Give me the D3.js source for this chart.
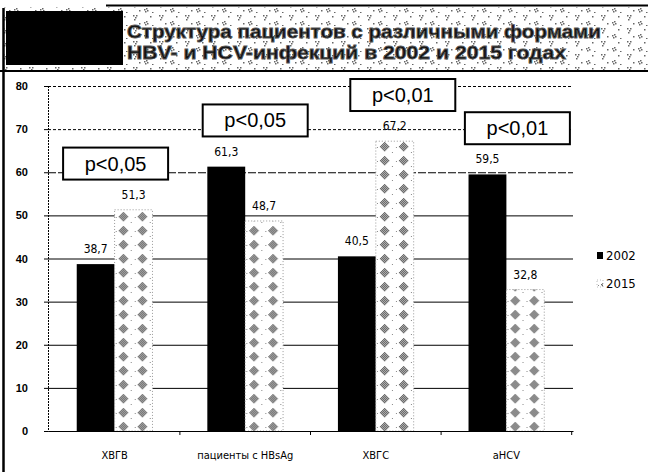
<!DOCTYPE html>
<html>
<head>
<meta charset="utf-8">
<script src="https://cdn.jsdelivr.net/npm/d3@7"></script>
<style>
  body { margin: 0; background: #fff; }
  svg { display: block; }
</style>
</head>
<body>
<div id="chart"></div>
<script>
const categories = ["ХВГВ", "пациенты с HBsAg", "ХВГС", "aHCV"];
const years = ["2002", "2015"];
const values2002 = [38.7, 61.3, 40.5, 59.5];
const values2015 = [51.3, 48.7, 67.2, 32.8];
const pLabels = ["p<0,05", "p<0,05", "p<0,01", "p<0,01"];
const yTicks = [0, 10, 20, 30, 40, 50, 60, 70, 80];
const titleLines = ["Структура пациентов с различными формами", "HBV- и HCV-инфекций в 2002 и 2015 годах"];

const W = 648, H = 472;
const plotL = 48, plotR = 573, plotT = 86, plotB = 431;
const narrow = "'Liberation Sans Narrow', 'DejaVu Sans Condensed', Arial, sans-serif";

const svg = d3.select("#chart").append("svg")
    .attr("width", W).attr("height", H);

const defs = svg.append("defs");

// stippled fill for 2015 bars: gray halftone blobs, two per bar width
const pat = defs.append("pattern")
    .attr("id", "stip").attr("patternUnits", "userSpaceOnUse")
    .attr("width", 19).attr("height", 14);
pat.append("rect").attr("width", 19).attr("height", 14).attr("fill", "#fff");
for (let i = 0; i <= 8; i++) {
  for (let j = 0; j <= 8; j++) {
    if ((i + j) % 2 === 0 && Math.abs(i - 4) + Math.abs(j - 4) <= 5) {
      pat.append("rect").attr("x", 4 + i).attr("y", 2 + j)
        .attr("width", 1.3).attr("height", 1.3).attr("fill", "#666");
    }
  }
}
pat.append("rect").attr("x", 16).attr("y", 12).attr("width", 1).attr("height", 1).attr("fill", "#888");
pat.append("rect").attr("x", 1).attr("y", 7).attr("width", 1).attr("height", 1).attr("fill", "#888");

// speckled title background
const tpat = defs.append("pattern")
    .attr("id", "tbg").attr("patternUnits", "userSpaceOnUse")
    .attr("width", 26).attr("height", 13);
tpat.append("rect").attr("width", 26).attr("height", 13).attr("fill", "#fff");
[[3,2],[5,4],[4,6],[6,2],[14,9],[16,8],[15,11],[17,10],[20,3],[9,10],[22,12]].forEach(([a, b]) => {
  tpat.append("rect").attr("x", a).attr("y", b).attr("width", 1.5).attr("height", 1.5).attr("fill", "#666");
});

// title block
svg.append("rect").attr("x", 4).attr("y", 7).attr("width", W - 4).attr("height", 63)
    .attr("fill", "url(#tbg)");
svg.append("rect").attr("x", 6).attr("y", 11).attr("width", 117).attr("height", 54).attr("fill", "#000");
svg.append("line").attr("x1", 106).attr("x2", W).attr("y1", 5.5).attr("y2", 5.5)
    .attr("stroke", "#000").attr("stroke-width", 2);
svg.append("line").attr("x1", 0).attr("x2", W).attr("y1", 71).attr("y2", 71)
    .attr("stroke", "#000").attr("stroke-width", 2);
svg.append("line").attr("x1", 3.5).attr("x2", 3.5).attr("y1", 8).attr("y2", H)
    .attr("stroke", "#000").attr("stroke-width", 2.5);

const titleEnds = [601, 566];
svg.selectAll("text.title").data(titleLines).enter().append("text")
    .attr("class", "title")
    .attr("x", 127).attr("y", (d, i) => 38 + i * 21)
    .attr("textLength", (d, i) => titleEnds[i] - 127)
    .attr("lengthAdjust", "spacingAndGlyphs")
    .attr("font-family", "Arial, 'Liberation Sans', sans-serif")
    .attr("font-weight", "bold").attr("font-size", 18)
    .attr("fill", "#111")
    .attr("stroke", "#555").attr("stroke-width", 0.8)
    .text(d => d);

// scales
const y = d3.scaleLinear().domain([0, 80]).range([plotB, plotT]);
const x0 = d3.scaleBand().domain(categories).range([plotL, plotR])
    .paddingInner(0.42).paddingOuter(0.22);
const x1 = d3.scaleBand().domain(years).range([0, x0.bandwidth()]);

// gridlines
svg.append("g").attr("transform", `translate(${plotL},0)`)
    .call(d3.axisLeft(y).tickValues(yTicks.slice(1)).tickSize(-(plotR - plotL)).tickFormat(""))
    .call(g => g.select(".domain").remove())
    .call(g => g.selectAll(".tick line")
        .attr("stroke", "#000").attr("stroke-width", 1)
        .attr("stroke-dasharray", d => d >= 70 ? "3,2" : d === 60 ? "8,2" : null));

// y axis
svg.append("g").attr("transform", `translate(${plotL},0)`)
    .call(d3.axisLeft(y).tickValues(yTicks).tickSize(4).tickPadding(16))
    .call(g => g.select(".domain").attr("stroke", "#000").attr("stroke-dasharray", "2,1"))
    .call(g => g.selectAll(".tick text")
        .attr("font-family", "Arial, sans-serif").attr("font-weight", "bold")
        .attr("font-size", 11).attr("fill", "#000"));

// bars
const rows = categories.map((c, i) => ({ cat: c, vals: [values2002[i], values2015[i]] }));
const groups = svg.selectAll("g.grp").data(rows).enter().append("g")
    .attr("class", "grp")
    .attr("transform", d => `translate(${x0(d.cat)},0)`);

groups.selectAll("rect").data(d => d.vals.map((v, k) => ({ year: years[k], v })))
    .enter().append("rect")
    .attr("x", d => x1(d.year))
    .attr("y", d => y(d.v))
    .attr("width", x1.bandwidth())
    .attr("height", d => y(0) - y(d.v))
    .attr("fill", d => d.year === "2002" ? "#000" : "url(#stip)")
    .attr("stroke", d => d.year === "2002" ? "none" : "#999")
    .attr("stroke-dasharray", "1,2")
    .attr("stroke-width", 1);

groups.selectAll("text.val").data(d => d.vals.map((v, k) => ({ year: years[k], v })))
    .enter().append("text")
    .attr("class", "val")
    .attr("x", d => x1(d.year) + x1.bandwidth() / 2)
    .attr("y", d => y(d.v) - 11)
    .attr("text-anchor", "middle")
    .attr("font-family", narrow).attr("font-size", 12).attr("fill", "#000")
    .text(d => d3.format(".1f")(d.v).replace(".", ","));

// x axis
svg.append("g").attr("transform", `translate(0,${plotB})`)
    .call(d3.axisBottom(x0).tickSize(0).tickPadding(20))
    .call(g => g.select(".domain").attr("stroke", "#000").attr("stroke-width", 1.2))
    .call(g => g.selectAll(".tick text")
        .attr("font-family", narrow).attr("font-size", 11).attr("fill", "#000"));
const bounds = categories.map(c => x0(c) + x0.bandwidth() + (x0.step() - x0.bandwidth()) / 2);
svg.append("g").selectAll("line").data(bounds).enter().append("line")
    .attr("x1", d => d).attr("x2", d => d)
    .attr("y1", plotB).attr("y2", plotB + 4)
    .attr("stroke", "#000");

// p-value annotation boxes
const pBoxDx = [1, 10, 27, 11];
const pBoxW = 105, pBoxH = 32;
const pb = svg.selectAll("g.pbox").data(rows).enter().append("g")
    .attr("class", "pbox")
    .attr("transform", (d, i) => {
      const cx = x0(d.cat) + x0.bandwidth() / 2 + pBoxDx[i];
      const by = y(d3.max(d.vals) + 7);
      return `translate(${cx - pBoxW / 2},${by - pBoxH})`;
    });
pb.append("rect").attr("width", pBoxW).attr("height", pBoxH)
    .attr("fill", "#fff").attr("stroke", "#000").attr("stroke-width", 2);
pb.append("text")
    .attr("x", pBoxW / 2).attr("y", pBoxH / 2 + 7)
    .attr("text-anchor", "middle")
    .attr("font-family", "'Liberation Sans', Arial, sans-serif")
    .attr("font-size", 20).attr("fill", "#000")
    .text((d, i) => pLabels[i]);

// legend
const lg = svg.append("g").attr("transform", "translate(597,250)");
const li = lg.selectAll("g").data(years).enter().append("g")
    .attr("transform", (d, i) => `translate(0,${i * 28})`);
li.append("rect").attr("x", 0).attr("y", 2).attr("width", 6).attr("height", 7)
    .attr("fill", d => d === "2002" ? "#000" : "url(#stip)")
    .attr("stroke", d => d === "2002" ? "none" : "#bbb")
    .attr("stroke-dasharray", "1,2");
li.append("text").attr("x", 9).attr("y", 10)
    .attr("font-family", narrow).attr("font-size", 13).attr("fill", "#000")
    .text(d => d);
</script>
</body>
</html>
